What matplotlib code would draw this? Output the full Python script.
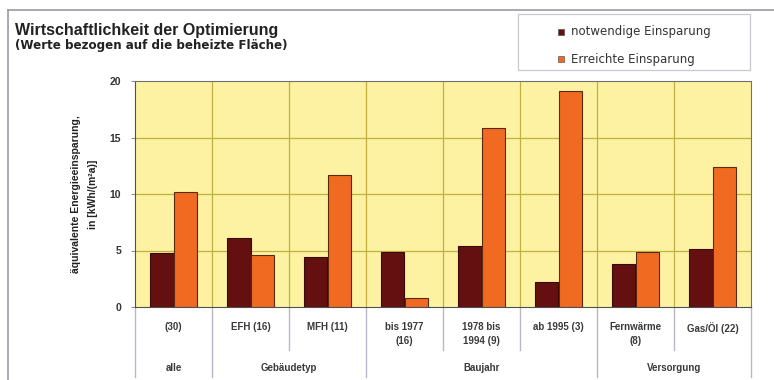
import numpy as np
import matplotlib.pyplot as plt
from matplotlib.patches import Rectangle
import matplotlib.transforms as mtransforms

plt.rcParams['font.family'] = ['Liberation Sans', 'DejaVu Sans']

# Werte in kWh/(m²a)
kategorien = ["(30)", "EFH (16)", "MFH (11)", "bis 1977\n(16)", "1978 bis\n1994 (9)",
              "ab 1995 (3)", "Fernwärme\n(8)", "Gas/Öl (22)"]
notwendig = [4.8, 6.1, 4.4, 4.9, 5.4, 2.2, 3.8, 5.1]
erreicht = [10.2, 4.6, 11.7, 0.8, 15.8, 19.1, 4.9, 12.4]
gruppen = ["alle", "Gebäudetyp", "Baujahr", "Versorgung"]
gruppen_grenzen = [0, 1, 3, 6, 8]

DUNKEL = "#641010"
ORANGE = "#f06a22"
HINTERGRUND = "#fcf2a2"
GITTER = "#c2b040"

W, H = 774, 380
fig = plt.figure(figsize=(W / 100, H / 100), dpi=100)

# Rahmen um die ganze Grafik
fig.add_artist(plt.Line2D([8 / W, 8 / W], [0, 1 - 10 / H], color="#9a9aa8", lw=1.2))
fig.add_artist(plt.Line2D([8 / W, 1], [1 - 10 / H, 1 - 10 / H], color="#9a9aa8", lw=1.2))

ax = fig.add_axes([135 / W, 1 - 307 / H, 616 / W, 226 / H])
ax.set_facecolor(HINTERGRUND)

n = len(kategorien)
x = np.arange(n)
bw = 0.30
ax.bar(x - bw / 2, notwendig, bw, color=DUNKEL, edgecolor="#3a0a0a", lw=0.8, zorder=3)
ax.bar(x + bw / 2, erreicht, bw, color=ORANGE, edgecolor="#5a2a10", lw=0.8, zorder=3)

ax.set_xlim(-0.5, n - 0.5)
ax.set_ylim(0, 20)
ax.set_yticks([0, 5, 10, 15, 20])
ax.set_xticks([])
for v in [5, 10, 15]:
    ax.axhline(v, color=GITTER, lw=0.9, zorder=1)
for b in np.arange(0.5, n - 0.5, 1):
    ax.axvline(b, color=GITTER, lw=0.9, zorder=1)

for side in ["top", "right"]:
    ax.spines[side].set_color("#707070")
for side in ["left", "bottom"]:
    ax.spines[side].set_color("#505050")
ax.tick_params(axis="y", labelsize=7.5, length=3, color="#909090", pad=7)
for lab in ax.get_yticklabels():
    lab.set_fontweight("bold")
    lab.set_color("#333333")

ax.set_ylabel("äquivalente Energieeinsparung,\nin [kWh/(m²a)]", fontsize=7.5,
              fontweight="bold", color="#222222", labelpad=8, linespacing=1.9)

# Kategorien- und Gruppenbeschriftung unter der Achse
trans = mtransforms.blended_transform_factory(ax.transData, ax.transAxes)
for i, k in enumerate(kategorien):
    ax.text(i, -0.065, k, transform=trans, ha="center", va="top", fontsize=7,
            fontweight="bold", color="#3a3a3a", linespacing=1.6)

for g, (a, b) in zip(gruppen, zip(gruppen_grenzen[:-1], gruppen_grenzen[1:])):
    ax.text((a + b - 1) / 2, -0.27, g, transform=trans, ha="center", va="center",
            fontsize=7, fontweight="bold", color="#3a3a3a")

for b in np.arange(-0.5, n, 1):
    lang = (b + 0.5) in gruppen_grenzen
    ax.plot([b, b], [0, -0.31 if lang else -0.19], transform=trans, clip_on=False,
            color="#b8b8cc", lw=1.0)

# Titel
fig.text(15 / W, 1 - 30 / H, "Wirtschaftlichkeit der Optimierung", fontsize=11.5,
         fontweight="bold", color="#222222", va="center")
fig.text(15 / W, 1 - 46 / H, "(Werte bezogen auf die beheizte Fläche)", fontsize=8.6,
         fontweight="bold", color="#222222", va="center", family="DejaVu Sans")

# Legende
fig.add_artist(Rectangle((518 / W, 1 - 70 / H), 232 / W, 56 / H, transform=fig.transFigure,
                         fill=False, edgecolor="#c8c8d0", lw=0.9))
for yy, farbe, txt in [(32, DUNKEL, "notwendige Einsparung"), (59, ORANGE, "Erreichte Einsparung")]:
    fig.add_artist(Rectangle((558 / W, 1 - (yy + 3) / H), 6 / W, 6 / H, transform=fig.transFigure,
                             facecolor=farbe, edgecolor="#404040", lw=0.4))
    fig.text(571 / W, 1 - yy / H, txt, fontsize=8.5, color="#333333", va="center",
             family="DejaVu Sans")

fig.savefig("out.png", dpi=100)
